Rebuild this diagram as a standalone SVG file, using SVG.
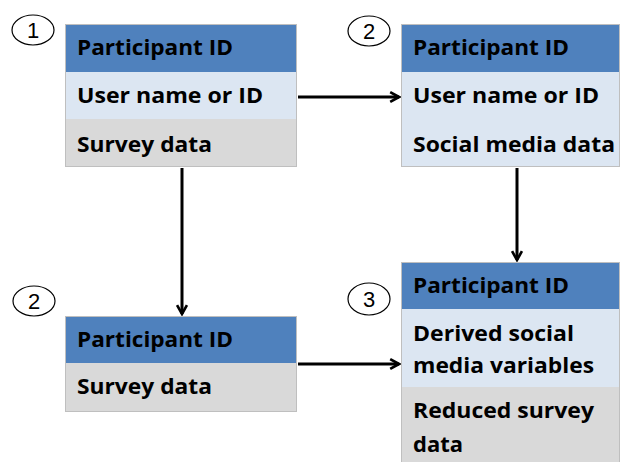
<svg xmlns="http://www.w3.org/2000/svg" width="621" height="462" viewBox="0 0 621 462">
<defs>
<style>
.hdr{fill:#4f81bd;}
.lb{fill:#dce6f2;}
.gr{fill:#d9d9d9;}
.frame{fill:none;stroke:#bfbfbf;stroke-width:1;}
.t{font-family:"Open Sans","Noto Sans","Liberation Sans",sans-serif;font-weight:bold;font-size:21.5px;fill:#000;}
.num{font-family:"Liberation Sans",sans-serif;font-size:22px;fill:#000;text-anchor:middle;}
.badge{fill:#fff;stroke:#000;stroke-width:1.2;}
.conn{stroke:#000;stroke-width:3;fill:none;marker-end:url(#arr);}
</style>
<marker id="arr" viewBox="0 0 12 12" refX="10" refY="6" markerWidth="4.4" markerHeight="4.4" orient="auto" markerUnits="strokeWidth">
<path d="M2,1.5 L10,6 L2,10.5" fill="none" stroke="#000" stroke-width="2.4"/>
</marker>
</defs>
<rect width="621" height="462" fill="#fff"/>

<g id="connectors">
<line class="conn" x1="298" y1="97" x2="399" y2="97"/>
<line class="conn" x1="182" y1="168" x2="182" y2="314"/>
<line class="conn" x1="517" y1="168" x2="517" y2="260"/>
<line class="conn" x1="298" y1="364" x2="399" y2="364"/>
</g>

<g id="node1">
<ellipse class="badge" cx="33" cy="30" rx="21" ry="15"/>
<text class="num" x="33" y="38">1</text>
<rect class="hdr" x="65" y="24" width="232" height="48"/>
<rect class="lb" x="65" y="72" width="232" height="47"/>
<rect class="gr" x="65" y="119" width="232" height="48"/>
<rect class="frame" x="65.5" y="24.5" width="231" height="142"/>
<text class="t" x="77" y="55" textLength="156" lengthAdjust="spacingAndGlyphs">Participant ID</text>
<text class="t" x="77" y="103" textLength="186" lengthAdjust="spacingAndGlyphs">User name or ID</text>
<text class="t" x="77" y="152" textLength="135" lengthAdjust="spacingAndGlyphs">Survey data</text>
</g>

<g id="node2">
<ellipse class="badge" cx="369" cy="31" rx="21" ry="15"/>
<text class="num" x="369" y="39">2</text>
<rect class="hdr" x="401" y="24" width="219" height="48"/>
<rect class="lb" x="401" y="72" width="219" height="95"/>
<rect class="frame" x="401.5" y="24.5" width="218" height="142"/>
<text class="t" x="413" y="55" textLength="156" lengthAdjust="spacingAndGlyphs">Participant ID</text>
<text class="t" x="413" y="103" textLength="186" lengthAdjust="spacingAndGlyphs">User name or ID</text>
<text class="t" x="413" y="152" textLength="202" lengthAdjust="spacingAndGlyphs">Social media data</text>
</g>

<g id="node3">
<ellipse class="badge" cx="34" cy="301" rx="21" ry="15"/>
<text class="num" x="34" y="309">2</text>
<rect class="hdr" x="65" y="316" width="232" height="47"/>
<rect class="gr" x="65" y="363" width="232" height="49"/>
<rect class="frame" x="65.5" y="316.5" width="231" height="95"/>
<text class="t" x="77" y="347" textLength="156" lengthAdjust="spacingAndGlyphs">Participant ID</text>
<text class="t" x="77" y="394" textLength="135" lengthAdjust="spacingAndGlyphs">Survey data</text>
</g>

<g id="node4">
<ellipse class="badge" cx="369" cy="299" rx="21" ry="16"/>
<text class="num" x="369" y="307">3</text>
<rect class="hdr" x="401" y="262" width="219" height="47"/>
<rect class="lb" x="401" y="309" width="219" height="78"/>
<rect class="gr" x="401" y="387" width="219" height="75"/>
<rect class="frame" x="401.5" y="262.5" width="218" height="200"/>
<text class="t" x="413" y="293" textLength="156" lengthAdjust="spacingAndGlyphs">Participant ID</text>
<text class="t" x="413" y="341" textLength="161" lengthAdjust="spacingAndGlyphs">Derived social</text>
<text class="t" x="413" y="373" textLength="181" lengthAdjust="spacingAndGlyphs">media variables</text>
<text class="t" x="413" y="418" textLength="181" lengthAdjust="spacingAndGlyphs">Reduced survey</text>
<text class="t" x="413" y="452" textLength="50" lengthAdjust="spacingAndGlyphs">data</text>
</g>
</svg>
